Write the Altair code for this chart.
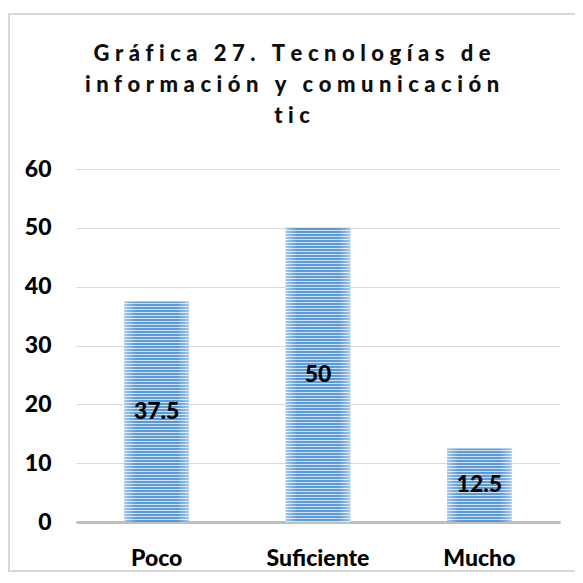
import altair as alt
import pandas as pd

categories = ["Poco", "Suficiente", "Mucho"]
values = [37.5, 50, 12.5]
title_lines = ["Gráfica 27. Tecnologías de", "información y comunicación", "tic"]
y_ticks = [0, 10, 20, 30, 40, 50, 60]

df = pd.DataFrame({"cat": categories, "val": values})

W, H = 484, 353
YMAX = 60
PX_PER_UNIT = H / YMAX
DARK = "#5B9BD5"
LIGHT = "#CFE0F3"
FONT = "Lato"
LBL = 23
WEIGHT = 900


def spaced(s):
    return "\u2009\u2009".join(list(s))


def stripes(v, period=3.0, dark=2.0):
    h = v * PX_PER_UNIT
    stops = []
    y = 0.0
    while y < h:
        a = y / h
        b = min((y + dark) / h, 1.0)
        c = min((y + period) / h, 1.0)
        stops += [alt.GradientStop(color=DARK, offset=a), alt.GradientStop(color=DARK, offset=b)]
        if b < 1.0:
            stops += [alt.GradientStop(color=LIGHT, offset=b), alt.GradientStop(color=LIGHT, offset=c)]
        y += period
    return alt.LinearGradient(gradient="linear", stops=stops, x1=0, x2=0, y1=0, y2=1)


edge = alt.LinearGradient(
    gradient="linear",
    stops=[
        alt.GradientStop(color="rgba(255,255,255,0.45)", offset=0),
        alt.GradientStop(color="rgba(255,255,255,0)", offset=0.18),
        alt.GradientStop(color="rgba(255,255,255,0)", offset=0.82),
        alt.GradientStop(color="rgba(255,255,255,0.45)", offset=1),
    ],
    x1=0, x2=1, y1=0, y2=0,
)

x_enc = alt.X(
    "cat:N",
    sort=categories,
    scale=alt.Scale(domain=categories, paddingInner=0.6, paddingOuter=0.3),
    axis=alt.Axis(
        title=None, labelAngle=0, ticks=False, domainColor="#BFBFBF", domainWidth=3,
        labelFont=FONT, labelFontSize=LBL, labelFontWeight=WEIGHT, labelColor="#000000",
        labelPadding=25, grid=False,
    ),
)
y_enc = alt.Y(
    "val:Q",
    scale=alt.Scale(domain=[0, YMAX], nice=False),
    axis=alt.Axis(
        title=None, values=y_ticks, ticks=False, domain=False, gridColor="#D9D9D9",
        gridWidth=1, labelFont=FONT, labelFontSize=LBL, labelFontWeight=WEIGHT,
        labelColor="#000000", labelPadding=25,
    ),
)

base = alt.Chart(df)
layers = []
for c, v in zip(categories, values):
    layers.append(
        base.transform_filter(alt.datum.cat == c)
        .mark_bar(fill=stripes(v), stroke=None)
        .encode(x=x_enc, y=y_enc)
    )
overlay = base.mark_bar(fill=edge).encode(x=x_enc, y=y_enc)
labels = (
    base.transform_calculate(mid="datum.val / 2")
    .mark_text(font=FONT, fontSize=LBL, fontWeight=WEIGHT, color="#000000", baseline="middle")
    .encode(x=x_enc, y=alt.Y("mid:Q"), text=alt.Text("val:Q"))
)
border = base.mark_rect(fill=None, stroke="#D9D9D9", strokeWidth=2).encode(
    x=alt.value(-67), x2=alt.value(W + 16), y=alt.value(-155), y2=alt.value(H + 49)
)

chart = (
    alt.layer(border, *layers, overlay, labels)
    .properties(
        width=W,
        height=H,
        autosize=alt.AutoSizeParams(type="none"),
        padding={"left": 68, "top": 161, "right": 15, "bottom": 52},
        title=alt.TitleParams(
            text=[spaced(t) for t in title_lines],
            anchor="middle",
            frame="group",
            dx=-26,
            offset=-115,
            font=FONT,
            fontSize=22,
            fontWeight=WEIGHT,
            color="#0d0d0d",
            lineHeight=31,
        ),
    )
    .configure_view(stroke=None)
)

chart.save("out.html", embed_options={"renderer": "svg", "actions": False})
